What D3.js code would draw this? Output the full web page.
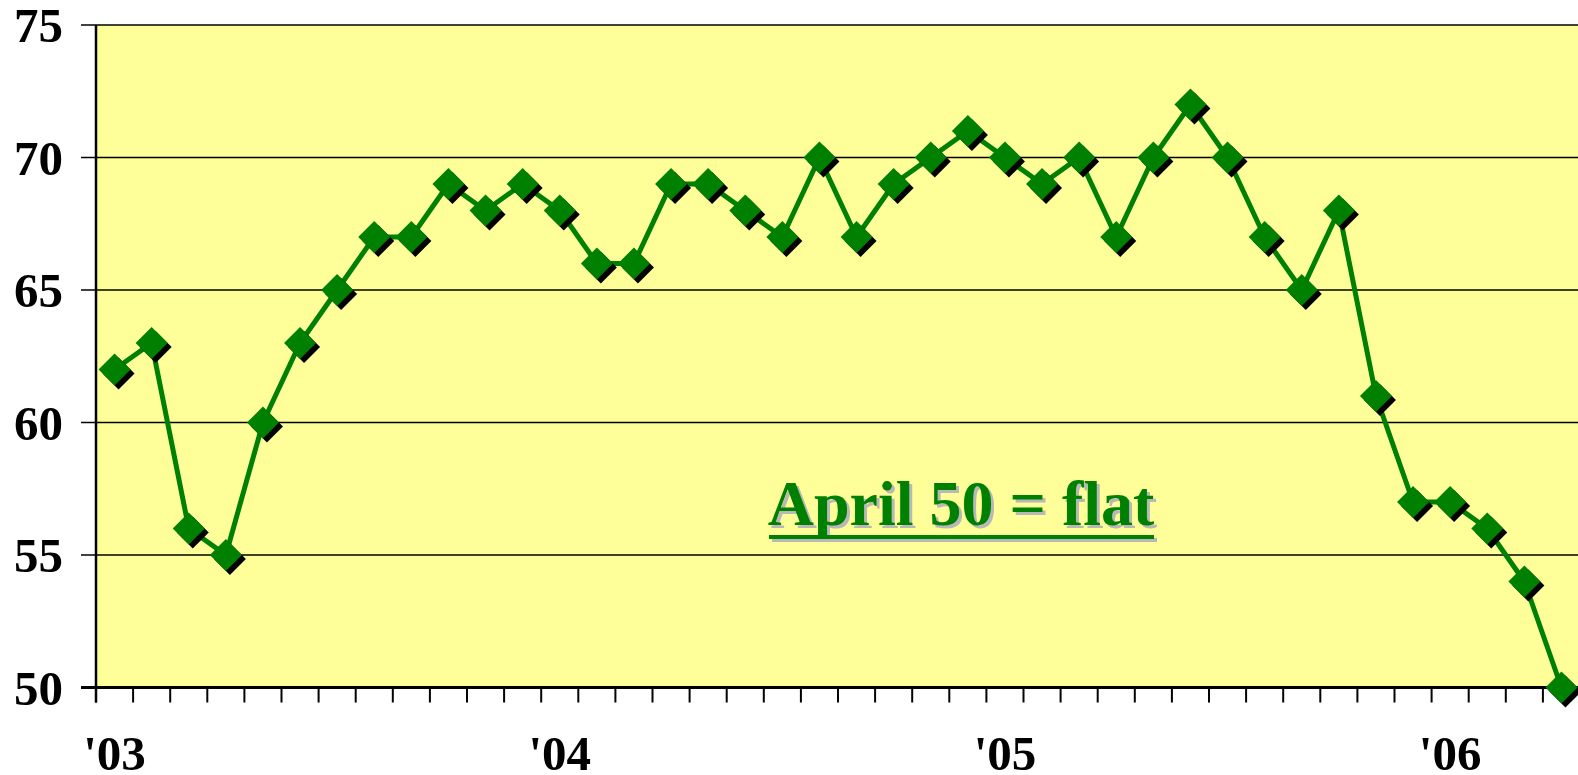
<!DOCTYPE html>
<html>
<head>
<meta charset="utf-8">
<script src="https://cdn.jsdelivr.net/npm/d3@7"></script>
<style>
  html, body { margin: 0; padding: 0; background: #fff; overflow: hidden; }
  text { font-family: "Liberation Serif", "Times New Roman", serif; font-weight: bold; }
</style>
</head>
<body>
<script>
// monthly readings, Jan 2003 .. Apr 2006
var months = d3.range(40).map(i => i);
var values = [62, 63, 56, 55, 60, 63, 65, 67, 67, 69, 68, 69,
              68, 66, 66, 69, 69, 68, 67, 70, 67, 69, 70, 71,
              70, 69, 70, 67, 70, 72, 70, 67, 65, 68, 61, 57,
              57, 56, 54, 50];
var yTicks = [50, 55, 60, 65, 70, 75];
var yearLabels = [{i: 0, t: "'03"}, {i: 12, t: "'04"}, {i: 24, t: "'05"}, {i: 36, t: "'06"}];
var note = "April 50 = flat";

var W = 1578, H = 775;
var margin = {top: 25, right: 0, bottom: 88, left: 96};

const svg = d3.select("body")
    .append("svg")
    .attr("width", W)
    .attr("height", H);

var xscale = d3.scaleBand()
    .domain(months)
    .range([margin.left, margin.left + 37.1 * months.length]);

var yscale = d3.scaleLinear()
    .domain([50, 75])
    .range([H - margin.bottom + 0.5, margin.top]);

var plotRight = W + 5;

// background
svg.append("rect")
    .attr("x", margin.left)
    .attr("y", yscale(75))
    .attr("width", plotRight - margin.left)
    .attr("height", yscale(50) - yscale(75))
    .attr("fill", "#ffff99");

// gridlines + y labels
svg.append("g")
    .selectAll("line")
    .data(yTicks.filter(d => d > 50))
    .join("line")
    .attr("x1", margin.left - 15)
    .attr("x2", plotRight)
    .attr("y1", d => yscale(d))
    .attr("y2", d => yscale(d))
    .attr("stroke", "#000")
    .attr("stroke-width", 1.5);

svg.append("g")
    .selectAll("text")
    .data(yTicks)
    .join("text")
    .attr("x", 63)
    .attr("y", d => yscale(d) + 17)
    .attr("text-anchor", "end")
    .attr("font-size", 49)
    .text(d => d);

// left axis line
svg.append("line")
    .attr("x1", margin.left).attr("x2", margin.left)
    .attr("y1", yscale(75)).attr("y2", yscale(50) + 15)
    .attr("stroke", "#000").attr("stroke-width", 2.5);

// bottom axis with ticks between months
var xAxis = d3.axisBottom(xscale).tickSize(15).tickSizeOuter(0).tickFormat("");
var gx = svg.append("g")
    .attr("transform", `translate(0,${yscale(50)})`)
    .call(xAxis);
gx.select(".domain").remove();
gx.selectAll(".tick line")
    .attr("transform", `translate(${-xscale.bandwidth() / 2},0)`)
    .attr("stroke", "#000")
    .attr("stroke-width", 2);
svg.append("line")
    .attr("x1", margin.left - 15).attr("x2", plotRight)
    .attr("y1", yscale(50)).attr("y2", yscale(50))
    .attr("stroke", "#000").attr("stroke-width", 3);

// year labels
svg.append("g")
    .selectAll("text")
    .data(yearLabels)
    .join("text")
    .attr("x", d => xscale(d.i) + xscale.bandwidth() / 2)
    .attr("y", 770)
    .attr("text-anchor", "middle")
    .attr("font-size", 49)
    .text(d => d.t);

// series line
var line = d3.line()
    .x((d, i) => xscale(i) + xscale.bandwidth() / 2)
    .y(d => yscale(d));

svg.append("path")
    .datum(values)
    .attr("fill", "none")
    .attr("stroke", "#008000")
    .attr("stroke-width", 5)
    .attr("stroke-linejoin", "round")
    .attr("d", line);

var diamond = "M0,-16L16,0L0,16L-16,0Z";

svg.append("g")
    .selectAll("path")
    .data(values)
    .join("path")
    .attr("d", diamond)
    .attr("transform", (d, i) => `translate(${xscale(i) + xscale.bandwidth() / 2 + 4},${yscale(d) + 4})`)
    .attr("fill", "#000");

svg.append("g")
    .selectAll("path")
    .data(values)
    .join("path")
    .attr("d", diamond)
    .attr("transform", (d, i) => `translate(${xscale(i) + xscale.bandwidth() / 2},${yscale(d)})`)
    .attr("fill", "#008000");

// annotation
var nx = 961, ny = 525;
svg.append("text")
    .attr("x", nx + 3).attr("y", ny + 3)
    .attr("text-anchor", "middle")
    .attr("font-size", 64)
    .attr("fill", "#b8b8b8")
    .text(note);
svg.append("line")
    .attr("x1", 769 + 3).attr("x2", 1154 + 3)
    .attr("y1", ny + 12 + 3).attr("y2", ny + 12 + 3)
    .attr("stroke", "#b8b8b8").attr("stroke-width", 4);
svg.append("text")
    .attr("x", nx).attr("y", ny)
    .attr("text-anchor", "middle")
    .attr("font-size", 64)
    .attr("fill", "#008000")
    .text(note);
svg.append("line")
    .attr("x1", 769).attr("x2", 1154)
    .attr("y1", ny + 12).attr("y2", ny + 12)
    .attr("stroke", "#008000").attr("stroke-width", 4);
</script>
</body>
</html>
